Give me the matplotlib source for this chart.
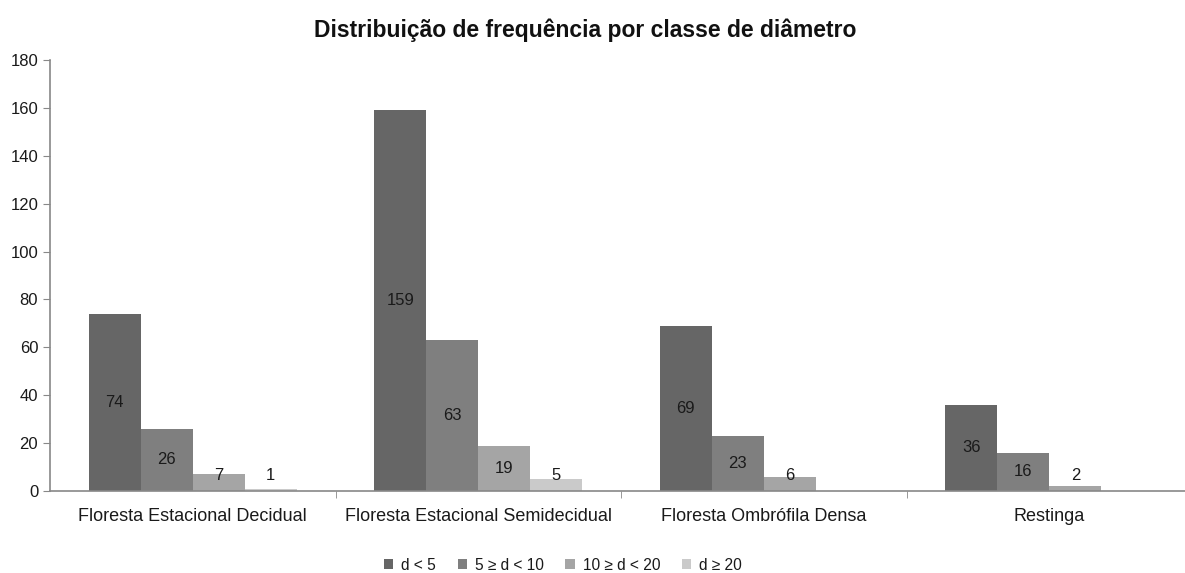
import numpy as np
import matplotlib
matplotlib.use('Agg')
import matplotlib.pyplot as plt

plt.rcParams['font.family'] = ['Liberation Sans', 'DejaVu Sans']

categories = ['Floresta Estacional Decidual', 'Floresta Estacional Semidecidual',
              'Floresta Ombrófila Densa', 'Restinga']
series_names = ['d < 5', '5 ≥ d < 10', '10 ≥ d < 20', 'd ≥ 20']
d_lt5 = [74, 159, 69, 36]
d_5_10 = [26, 63, 23, 16]
d_10_20 = [7, 19, 6, 2]
d_ge20 = [1, 5, 0, 0]
series = [d_lt5, d_5_10, d_10_20, d_ge20]
colors = ['#666666', '#7f7f7f', '#a5a5a5', '#cacaca']

fig = plt.figure(figsize=(11.85, 5.73), dpi=100)
ax = fig.add_axes([50 / 1185, 1 - 491 / 573, 1 - 50 / 1185, (491 - 60) / 573])

x = np.arange(len(categories))
w = 0.182
for i, (vals, c, name) in enumerate(zip(series, colors, series_names)):
    pos = x + (i - 1.5) * w
    ax.bar(pos, vals, width=w, color=c, label=name, linewidth=0)
    for p, v in zip(pos, vals):
        if v == 0:
            continue
        ax.text(p, max(v / 2, 6.5), str(v), ha='center', va='center',
                fontsize=12, color='#1a1a1a')

ax.set_xlim(-0.5, 3.475)
ax.set_ylim(0, 180)
ax.set_yticks(np.arange(0, 181, 20))
ax.tick_params(axis='y', labelsize=12, length=5, color='#888888', labelcolor='#1a1a1a')

ax.set_xticks(x)
ax.set_xticklabels(categories, fontsize=13, color='#1a1a1a')
ax.tick_params(axis='x', which='major', length=0, pad=12)
ax.set_xticks([0.5, 1.5, 2.5], minor=True)
ax.tick_params(axis='x', which='minor', length=5, color='#888888')

for s in ['top', 'right']:
    ax.spines[s].set_visible(False)
for s in ['left', 'bottom']:
    ax.spines[s].set_color('#888888')
    ax.spines[s].set_linewidth(1.2)

fig.suptitle('Distribuição de frequência por classe de diâmetro', fontsize=16.5,
             fontweight='bold', x=0.494, y=1 - 30 / 573, va='center', color='#111111')

fig.legend(loc='center', bbox_to_anchor=(0.475, 1 - 565 / 573), ncol=4, frameon=False,
           fontsize=11.2, handlelength=0.6, handleheight=0.6, handletextpad=0.5,
           columnspacing=1.4, labelcolor='#1a1a1a')

fig.savefig('out.png', dpi=100, facecolor='white')
